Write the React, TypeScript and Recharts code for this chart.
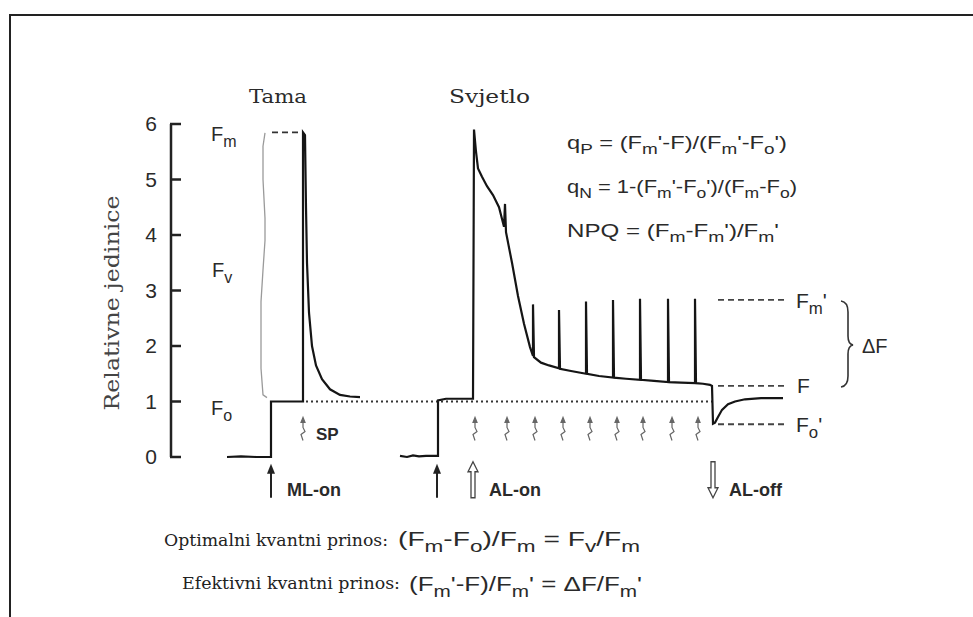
import React from 'react';
import { ComposedChart, Line, Scatter, XAxis, YAxis, ReferenceLine } from 'recharts';

const W = 973;
const H = 617;

const yTicks = [0, 1, 2, 3, 4, 5, 6];

// dark adapted trace: [time (a.u.), relative fluorescence]
const darkTrace: [number, number][] = [
  [56, 0], [70, 0.01], [85, 0], [100, 0], [100, 1.0], [115, 1.0], [132, 1.0],
  [132, 5.85], [134, 5.8], [135, 4.5], [136, 3.5], [138, 2.6], [141, 2.0],
  [145, 1.65], [151, 1.4], [159, 1.22], [169, 1.12], [179, 1.09], [189, 1.08],
];

// light trace with saturation pulses
const lightTrace: [number, number][] = [
  [229, 0.02], [236, 0], [242, 0.03], [248, 0.01], [255, 0.02], [267, 0.02],
  [267, 1.02], [275, 1.05], [302, 1.05],
  [303, 5.9], [305, 5.5], [307, 5.2], [311, 5.05], [316, 4.88], [322, 4.72], [328, 4.5], [333, 4.15],
  [334, 4.56], [335, 4.05], [341, 3.5], [347, 2.9], [353, 2.4], [359, 1.98], [362, 1.82],
  [362, 2.75], [363, 1.8], [370, 1.7], [378, 1.65], [388, 1.6],
  [388, 2.65], [389, 1.59], [400, 1.55], [415, 1.5],
  [415, 2.8], [416, 1.5], [428, 1.46], [442, 1.43],
  [442, 2.83], [443, 1.43], [455, 1.41], [469, 1.39],
  [469, 2.85], [470, 1.39], [483, 1.37], [497, 1.35],
  [497, 2.85], [498, 1.35], [510, 1.34], [524, 1.33],
  [524, 2.85], [525, 1.33], [532, 1.32], [539, 1.3], [541, 1.28],
  [542, 0.6], [544, 0.62], [547, 0.72], [551, 0.85], [557, 0.95], [564, 1.0],
  [574, 1.04], [590, 1.06], [612, 1.06],
];

// gray Fv brace drawn next to the dark trace
const fvBrace: [number, number][] = [
  [96, 1.07], [92, 1.12], [90, 1.6], [90, 2.8], [92, 3.37], [94, 3.9],
  [94, 4.3], [92, 5.0], [92, 5.6], [94, 5.84],
];

const pulseTimes = [132, 304, 336, 364, 392, 419, 446, 472, 501, 527];
const pulseLevel = 0.55;

const eventTimes = [100, 266, 302, 542];
const eventKinds = ['ml', 'ml', 'alOn', 'alOff'];
const eventLabels = ['ML-on', '', 'AL-on', 'AL-off'];
const eventLevel = -0.5;

const fmDark = 5.85;
const fmLight = 2.83;
const fSteady = 1.28;
const foLight = 0.59;

const toRows = (pts: [number, number][]) => pts.map(([t, y]) => ({ t, y }));

const SANS = 'Liberation Sans, Arial, sans-serif';
const SERIF = 'DejaVu Serif, serif';
const INK = '#2a2a2a';

function AxisTick(props: any) {
  const { x, y, payload } = props;
  return (
    <g>
      <line x1={x - 1} x2={x + 10} y1={y} y2={y} stroke="#222" strokeWidth={2.5} />
      <text x={x - 14} y={y} dy={7} textAnchor="end" fontSize={21} fontFamily={SANS} fill={INK}>
        {payload.value}
      </text>
    </g>
  );
}

function PulseMark(props: any) {
  const { cx, cy } = props;
  return (
    <g stroke="#666" fill="#666" strokeWidth={1.2}>
      <path d={`M${cx},${cy - 9} L${cx - 2},${cy - 4} L${cx + 2},${cy - 4} Z`} />
      <path
        d={`M${cx},${cy - 4} L${cx},${cy + 1} L${cx + 2},${cy + 5} L${cx - 2},${cy + 8} L${cx},${cy + 14}`}
        fill="none"
      />
    </g>
  );
}

function EventMark(props: any) {
  const { cx, cy, payload } = props;
  let arrow;
  if (payload.kind === 'ml') {
    arrow = (
      <g>
        <line x1={cx} x2={cx} y1={cy - 13} y2={cy + 13} stroke="#222" strokeWidth={2} />
        <path d={`M${cx},${cy - 21} L${cx - 4},${cy - 11} L${cx + 4},${cy - 11} Z`} fill="#222" />
      </g>
    );
  } else if (payload.kind === 'alOn') {
    arrow = (
      <path
        d={`M${cx},${cy - 23} L${cx + 5},${cy - 13} L${cx + 2},${cy - 13} L${cx + 2},${cy + 13} L${cx - 2},${cy + 13} L${cx - 2},${cy - 13} L${cx - 5},${cy - 13} Z`}
        fill="#fff"
        stroke="#444"
        strokeWidth={1.3}
      />
    );
  } else {
    arrow = (
      <path
        d={`M${cx},${cy + 13} L${cx + 5},${cy + 3} L${cx + 2},${cy + 3} L${cx + 2},${cy - 23} L${cx - 2},${cy - 23} L${cx - 2},${cy + 3} L${cx - 5},${cy + 3} Z`}
        fill="#fff"
        stroke="#444"
        strokeWidth={1.3}
      />
    );
  }
  return (
    <g>
      {arrow}
      {payload.label ? (
        <text x={cx + 16} y={cy + 11} fontSize={18} fontWeight="bold" fontFamily={SANS} fill={INK}>
          {payload.label}
        </text>
      ) : null}
    </g>
  );
}

// text with simple _{sub} subscripts
function Formula({
  x, y, text, size, len,
}: { x: number; y: number; text: string; size: number; len?: number }) {
  const parts = text.split(/(_\{[^}]*\})/).filter((p) => p.length > 0);
  const shift = size * 0.28;
  let down = false;
  const spans = parts.map((p, i) => {
    if (p.startsWith('_{')) {
      const el = (
        <tspan key={i} dy={down ? 0 : shift} fontSize={size * 0.8}>
          {p.slice(2, -1)}
        </tspan>
      );
      down = true;
      return el;
    }
    const el = (
      <tspan key={i} dy={down ? -shift : 0}>
        {p}
      </tspan>
    );
    down = false;
    return el;
  });
  return (
    <text
      x={x}
      y={y}
      fontSize={size}
      fontFamily={SANS}
      fill={INK}
      style={{ whiteSpace: 'pre' }}
      textLength={len}
      lengthAdjust={len ? 'spacingAndGlyphs' : undefined}
    >
      {spans}
    </text>
  );
}

export default function App() {
  const darkRows = toRows(darkTrace);
  const lightRows = toRows(lightTrace);
  const braceRows = toRows(fvBrace);
  const pulseRows = pulseTimes.map((t) => ({ t, y: pulseLevel }));
  const eventRows = eventTimes.map((t, i) => ({ t, y: eventLevel, kind: eventKinds[i], label: eventLabels[i] }));

  return (
    <div style={{ position: 'absolute', left: 0, top: 0, width: W, height: H, background: '#fff' }}>
      <ComposedChart width={W} height={H} margin={{ top: 68.5, right: 102, bottom: 49, left: 111 }}>
        <XAxis type="number" dataKey="t" domain={[0, 700]} allowDataOverflow hide />
        <YAxis
          type="number"
          domain={[-2, 7]}
          allowDataOverflow
          ticks={yTicks}
          interval={0}
          width={60}
          tickSize={0}
          tickMargin={0}
          axisLine={false}
          tickLine={false}
          tick={AxisTick}
        />
        <ReferenceLine segment={[{ x: 0, y: 0 }, { x: 0, y: 6 }]} stroke="#222" strokeWidth={2.5} />
        <ReferenceLine
          segment={[{ x: 101, y: fmDark }, { x: 131, y: fmDark }]}
          stroke="#333"
          strokeWidth={1.8}
          strokeDasharray="6 4"
        />
        <ReferenceLine
          segment={[{ x: 135, y: 1 }, { x: 541, y: 1 }]}
          stroke="#333"
          strokeWidth={2.2}
          strokeDasharray="2 3"
        />
        {[fmLight, fSteady, foLight].map((v) => (
          <ReferenceLine
            key={v}
            segment={[{ x: 547, y: v }, { x: 617, y: v }]}
            stroke="#444"
            strokeWidth={1.8}
            strokeDasharray="6 4"
          />
        ))}
        <Line data={braceRows} dataKey="y" stroke="#9a9a9a" strokeWidth={1.3} dot={false} isAnimationActive={false} />
        <Line data={darkRows} dataKey="y" stroke="#151515" strokeWidth={2.2} dot={false} isAnimationActive={false} />
        <Line data={lightRows} dataKey="y" stroke="#151515" strokeWidth={2.2} dot={false} isAnimationActive={false} />
        <Scatter data={pulseRows} dataKey="y" shape={PulseMark} isAnimationActive={false} />
        <Scatter data={eventRows} dataKey="y" shape={EventMark} isAnimationActive={false} />
      </ComposedChart>

      <svg width={W} height={H} style={{ position: 'absolute', left: 0, top: 0, pointerEvents: 'none' }}>
        <line x1={9} x2={W} y1={15} y2={15} stroke="#222" strokeWidth={2} />
        <line x1={10} x2={10} y1={15} y2={H} stroke="#222" strokeWidth={2} />

        <text
          transform="translate(119,303) rotate(-90)"
          textAnchor="middle"
          fontSize={21}
          fontFamily={SERIF}
          fill="#444"
          textLength={215}
          lengthAdjust="spacingAndGlyphs"
        >
          Relativne jedinice
        </text>

        <text x={249} y={103} fontSize={19} fontFamily={SERIF} fill={INK} textLength={58} lengthAdjust="spacingAndGlyphs">
          Tama
        </text>
        <text x={449} y={103} fontSize={19} fontFamily={SERIF} fill={INK} textLength={81} lengthAdjust="spacingAndGlyphs">
          Svjetlo
        </text>

        <Formula x={211} y={141} size={20} text="F_{m}" />
        <Formula x={212} y={277} size={20} text="F_{v}" />
        <Formula x={211} y={415} size={20} text="F_{o}" />

        <text x={316} y={440} fontSize={17} fontWeight="bold" fontFamily={SANS} fill={INK}>SP</text>

        <Formula x={567} y={149} size={19} len={220} text="q_{P} = (F_{m}'-F)/(F_{m}'-F_{o}')" />
        <Formula x={567} y={193} size={19} len={230} text="q_{N} = 1-(F_{m}'-F_{o}')/(F_{m}-F_{o})" />
        <Formula x={567} y={237} size={19} len={212} text="NPQ = (F_{m}-F_{m}')/F_{m}'" />

        <Formula x={796} y={308} size={21} text="F_{m}'" />
        <Formula x={797} y={393} size={21} text="F" />
        <Formula x={796} y={432} size={21} text="F_{o}'" />

        <path
          d="M841,301 Q848,302 848,312 L848,336 Q848,344 853,345 Q848,346 848,354 L848,376 Q848,386 841,387"
          fill="none"
          stroke="#333"
          strokeWidth={1.6}
        />
        <text x={862} y={353} fontSize={20} fontFamily={SANS} fill={INK}>ΔF</text>

        <text x={164} y={546} fontSize={16} fontFamily={SERIF} fill="#222" textLength={224} lengthAdjust="spacingAndGlyphs">
          Optimalni kvantni prinos:
        </text>
        <Formula x={398} y={546} size={20} len={242} text="(F_{m}-F_{o})/F_{m} = F_{v}/F_{m}" />
        <text x={182} y={589} fontSize={16} fontFamily={SERIF} fill="#222" textLength={218} lengthAdjust="spacingAndGlyphs">
          Efektivni kvantni prinos:
        </text>
        <Formula x={409} y={591} size={20} len={233} text="(F_{m}'-F)/F_{m}' = ΔF/F_{m}'" />
      </svg>
    </div>
  );
}
